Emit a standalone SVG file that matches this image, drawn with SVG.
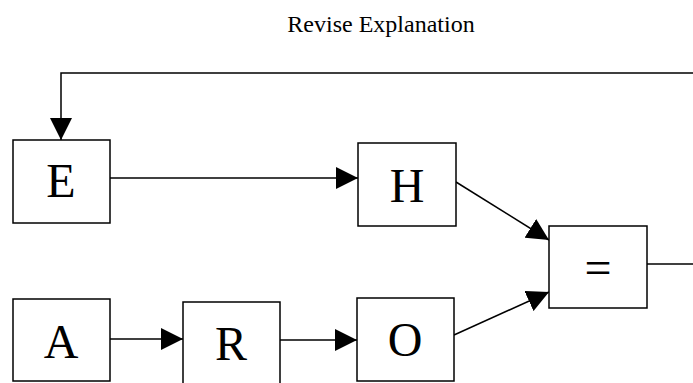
<svg xmlns="http://www.w3.org/2000/svg" width="693" height="383" viewBox="0 0 693 383">
<style>
.box{fill:#fff;stroke:#000;stroke-width:1.5}
.lbl{font-family:"Liberation Serif","Times New Roman",serif;font-size:48px;text-anchor:middle;fill:#000}
.ln{stroke:#000;stroke-width:1.5;fill:none}
</style>
<defs>
<marker id="ah" viewBox="0 0 10 10" refX="10" refY="5" markerWidth="22" markerHeight="22" markerUnits="userSpaceOnUse" orient="auto">
<path d="M0,0 L10,5 L0,10 z" fill="#000"/>
</marker>
</defs>
<text x="381" y="32" font-family="Liberation Serif,serif" font-size="24" text-anchor="middle">Revise Explanation</text>
<g id="connectors">
<polyline class="ln" points="693,73 61,73 61,140" marker-end="url(#ah)"/>
<line class="ln" x1="110" y1="178" x2="358" y2="178" marker-end="url(#ah)"/>
<line class="ln" x1="456" y1="182" x2="549" y2="240" marker-end="url(#ah)"/>
<line class="ln" x1="454" y1="335" x2="549" y2="292" marker-end="url(#ah)"/>
<line class="ln" x1="647" y1="264" x2="693" y2="264"/>
<line class="ln" x1="110" y1="339" x2="183" y2="339" marker-end="url(#ah)"/>
<line class="ln" x1="280" y1="340" x2="357" y2="340" marker-end="url(#ah)"/>
</g>
<g id="E"><rect class="box" x="13" y="140" width="97" height="83"/><text class="lbl" x="61" y="197">E</text></g>
<g id="H"><rect class="box" x="358" y="143" width="98" height="83"/><text class="lbl" x="407" y="202">H</text></g>
<g id="eq"><rect class="box" x="549" y="226" width="98" height="82"/><text class="lbl" x="598" y="284">=</text></g>
<g id="A"><rect class="box" x="13" y="299" width="97" height="82"/><text class="lbl" x="61" y="358">A</text></g>
<g id="R"><rect class="box" x="183" y="302" width="97" height="83"/><text class="lbl" x="231" y="360">R</text></g>
<g id="O"><rect class="box" x="357" y="298" width="97" height="83"/><text class="lbl" x="405" y="356">O</text></g>
</svg>
